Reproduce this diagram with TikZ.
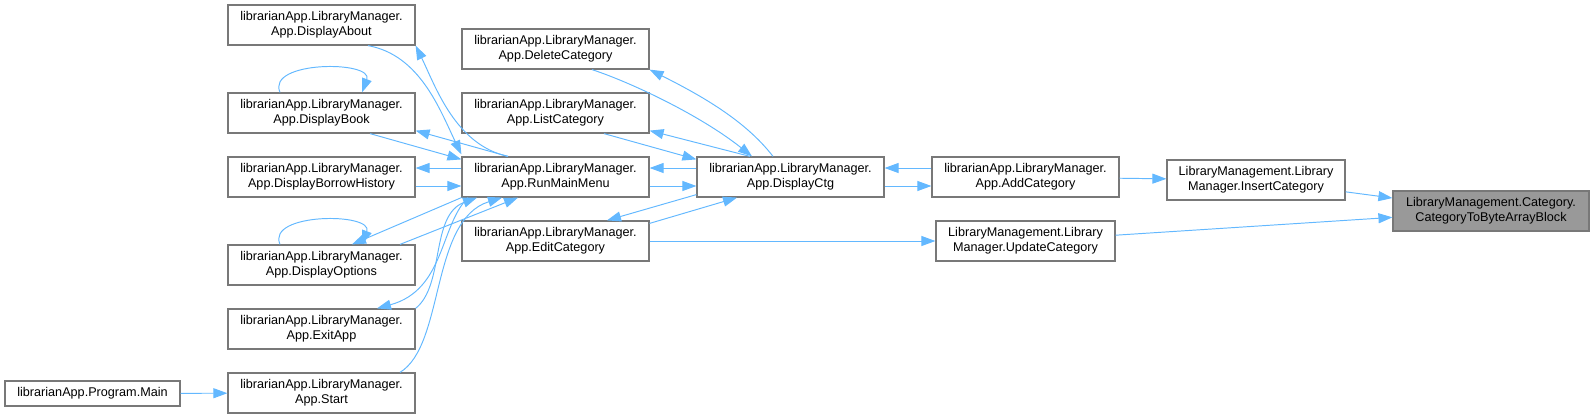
\documentclass[tikz,border=0pt]{standalone}
\usepackage{fontspec}
\setmainfont{Liberation Sans}
\usetikzlibrary{arrows.meta}
\definecolor{wire}{RGB}{99,184,255}
\definecolor{frame}{RGB}{120,120,120}
\definecolor{focus}{RGB}{153,153,153}
\tikzset{
  >={Triangle[length=2.8mm,width=2mm]},
  fn/.style={draw=frame,fill=#1,line width=0.7pt,minimum height=8mm,minimum width=37.4mm,
    inner sep=0pt,align=center,font=\fontsize{7.2}{8.5}\selectfont},
  fn/.default=white,
  call/.style={->,draw=wire,line width=0.55pt},
}

\begin{document}
\begin{tikzpicture}[x=0.02cm,y=-0.02cm]
  \useasboundingbox (0,0) rectangle (1595,419);
  % left column
  \node[fn,minimum width=35mm,minimum height=5mm] (main) at (92.5,393.5) {librarianApp.Program.Main};
  \node[fn] (about) at (321.5,25) {librarianApp.LibraryManager.\\App.DisplayAbout};
  \node[fn] (book) at (321.5,113) {librarianApp.LibraryManager.\\App.DisplayBook};
  \node[fn] (hist) at (321.5,177) {librarianApp.LibraryManager.\\App.DisplayBorrowHistory};
  \node[fn] (opts) at (321.5,265) {librarianApp.LibraryManager.\\App.DisplayOptions};
  \node[fn] (exitapp) at (321.5,329) {librarianApp.LibraryManager.\\App.ExitApp};
  \node[fn] (start) at (321.5,393) {librarianApp.LibraryManager.\\App.Start};
  % middle
  \node[fn] (del) at (555.5,49) {librarianApp.LibraryManager.\\App.DeleteCategory};
  \node[fn] (list) at (555.5,113) {librarianApp.LibraryManager.\\App.ListCategory};
  \node[fn] (run) at (555.5,177) {librarianApp.LibraryManager.\\App.RunMainMenu};
  \node[fn] (edit) at (555.5,241) {librarianApp.LibraryManager.\\App.EditCategory};
  \node[fn] (ctg) at (790.5,177) {librarianApp.LibraryManager.\\App.DisplayCtg};
  % right
  \node[fn] (add) at (1025.5,177) {librarianApp.LibraryManager.\\App.AddCategory};
  \node[fn,minimum width=35.8mm] (upd) at (1025.5,241) {LibraryManagement.Library\\Manager.UpdateCategory};
  \node[fn,minimum width=35.6mm] (ins) at (1256,180) {LibraryManagement.Library\\Manager.InsertCategory};
  \node[fn=focus,minimum width=39.2mm] (block) at (1491,211) {LibraryManagement.Category.\\CategoryToByteArrayBlock};

  % straight calls
  \draw[call] (main) -- (start);
  \draw[call] (add) -- (ins);
  \draw[call] (ins) -- (block);
  \draw[call] (upd) -- (block);
  \draw[call] (edit) -- (upd);
  \draw[call] ([yshift=1.8mm]add.west) -- ([yshift=1.8mm]ctg.east);
  \draw[call] ([yshift=-1.8mm]ctg.east) -- ([yshift=-1.8mm]add.west);
  \draw[call] ([yshift=1.8mm]ctg.west) -- ([yshift=1.8mm]run.east);
  \draw[call] ([yshift=-1.8mm]run.east) -- ([yshift=-1.8mm]ctg.west);
  \draw[call] ([yshift=1.8mm]run.west) -- ([yshift=1.8mm]hist.east);
  \draw[call] ([yshift=-1.8mm]hist.east) -- ([yshift=-1.8mm]run.west);

  % DisplayCtg and its neighbours
  \draw[call] ([xshift=-3.5mm]ctg.north) .. controls (745,120) and (700,95) .. (del.south east);
  \draw[call] ([xshift=7.3mm]del.south) .. controls (630,82) and (700,115) .. ([xshift=-7.7mm]ctg.north);
  \draw[call] ([xshift=9.7mm]list.south) -- ([yshift=-0.6mm]ctg.north west);
  \draw[call] ([xshift=-8.1mm]ctg.north) -- ([yshift=0.6mm]list.south east);
  \draw[call] ([yshift=0.6mm]ctg.south west) -- ([xshift=10.3mm]edit.north);
  \draw[call] ([yshift=-0.6mm]edit.north east) -- ([xshift=-10.7mm]ctg.south);

  % RunMainMenu and the left column
  \draw[call] ([xshift=9.3mm]about.south) .. controls (420,55) and (440,110) .. ([yshift=0.4mm]run.north west);
  \draw[call] ([xshift=-9.5mm]run.north) .. controls (455,145) and (435,85) .. (about.south east);
  \draw[call] ([xshift=9.7mm]book.south) -- ([yshift=-0.6mm]run.north west);
  \draw[call] ([xshift=-9.5mm]run.north) -- ([yshift=0.6mm]book.south east);
  \draw[call] ([xshift=-8.3mm]book.north) .. controls +(-14,-32) and +(12,-32) .. ([xshift=8.1mm]book.north);
  \draw[call] ([xshift=-8.3mm]opts.north) .. controls +(-14,-32) and +(12,-32) .. ([xshift=8.1mm]opts.north);
  \draw[call] (run.south west) -- ([xshift=6.1mm]opts.north);
  \draw[call] ([xshift=15.7mm]opts.north) -- ([xshift=-7.5mm]run.south);
  \draw[call] ([xshift=-17.5mm]run.south) .. controls (440,225) and (445,290) .. ([xshift=11.1mm]exitapp.north);
  \draw[call] (exitapp.north east) .. controls (445,285) and (430,215) .. ([xshift=-15.7mm]run.south);
  \draw[call] ([xshift=15.7mm]start.north) .. controls (445,345) and (430,220) .. ([xshift=-10.7mm]run.south);
\end{tikzpicture}
\end{document}
